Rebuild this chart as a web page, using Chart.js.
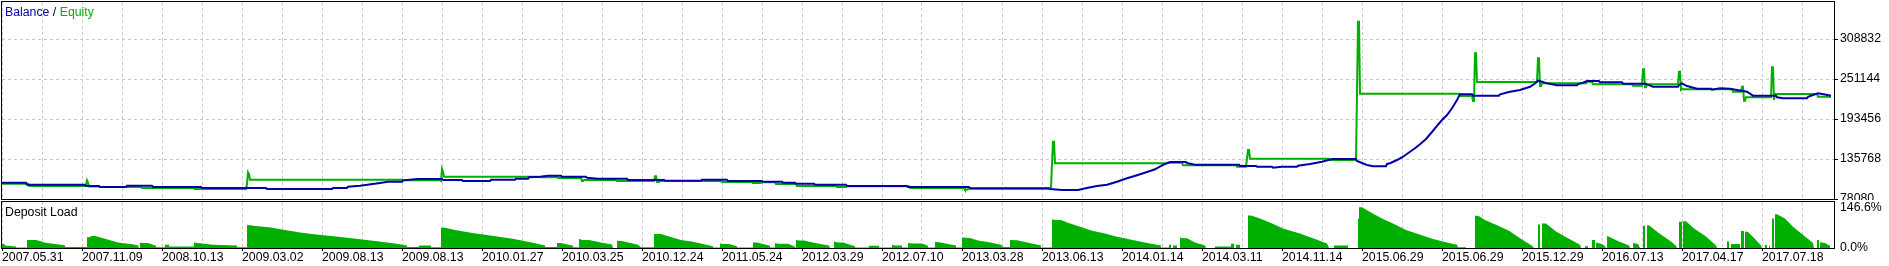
<!DOCTYPE html>
<html>
<head>
<meta charset="utf-8">
<script src="https://cdn.jsdelivr.net/npm/chart.js@4.4.0/dist/chart.umd.min.js"></script>
<style>
    html, body { margin: 0; padding: 0; background: #fff; overflow: hidden; }
    #wrap { position: relative; width: 1889px; height: 266px; font-family: "Liberation Sans", Arial, sans-serif; font-size: 12.3px; }
    canvas { position: absolute; left: 0; }
    #main { top: 0; }
    #load { top: 200px; }
    .cap { position: absolute; left: 5px; line-height: 14px; white-space: nowrap; z-index: 2; }
</style>
</head>
<body>
<div id="wrap">
    <canvas id="main" width="1889" height="200"></canvas>
    <canvas id="load" width="1889" height="66"></canvas>
    <div class="cap" style="top:5px"><span style="color:#0000a8">Balance</span> / <span style="color:#00b000">Equity</span></div>
    <div class="cap" style="top:205px;color:#000">Deposit Load</div>
</div>
<script>
// даты под каждой второй вертикальной линией сетки
const dateLabels = ['2007.05.31', '2007.11.09', '2008.10.13', '2009.03.02', '2009.08.13', '2009.08.13',
    '2010.01.27', '2010.03.25', '2010.12.24', '2011.05.24', '2012.03.29', '2012.07.10', '2013.03.28',
    '2013.06.13', '2014.01.14', '2014.03.11', '2014.11.14', '2015.06.29', '2015.06.29', '2015.12.29',
    '2016.07.13', '2017.04.17', '2017.07.18'];
const balanceTicks = [78080, 135768, 193456, 251144, 308832];
const loadTicks = [0, 146.6];

// [номер сделки, значение] - значение держится до следующей сделки
const balance = [
    [2, 101600], [27, 98700], [86, 96800], [100, 95400], [127, 97300], [153, 95400], [202, 93900],
    [267, 92500], [333, 93900], [348, 95800], [360, 97300], [371, 99300], [380, 101200], [388, 103000],
    [403, 105000], [412, 106200], [418, 106900], [443, 105500], [463, 104000], [491, 105900],
    [516, 107400], [529, 109400], [540, 110200], [548, 111700], [562, 110200], [587, 108800],
    [598, 107400], [628, 105500], [665, 104500], [702, 105900], [728, 104000], [763, 103000],
    [783, 101600], [796, 100100], [815, 98700], [847, 96800], [908, 95400], [970, 93500],
    [1050, 92500], [1062, 91100], [1078, 91100], [1088, 94400], [1097, 96800], [1107, 98700],
    [1117, 103000], [1127, 107900], [1137, 112300], [1147, 117000], [1155, 120900], [1162, 126700],
    [1170, 131400], [1187, 130000], [1195, 127500], [1240, 125700], [1257, 124700], [1273, 123200],
    [1282, 124700], [1298, 126100], [1310, 128600], [1322, 131900], [1332, 135800], [1357, 132900],
    [1362, 130000], [1367, 127100], [1373, 125200], [1387, 128600], [1390, 129600], [1397, 134300],
    [1403, 139100], [1410, 146300], [1415, 151200], [1420, 157000], [1426, 164600], [1432, 174700],
    [1437, 183400], [1442, 192000], [1447, 199200], [1452, 208900], [1457, 220900], [1460, 229100],
    [1473, 227100], [1500, 229100], [1510, 232800], [1520, 235300], [1530, 240000], [1535, 244700],
    [1538, 248700], [1543, 246800], [1547, 244900], [1557, 242100], [1578, 243900], [1583, 245800],
    [1587, 248300], [1600, 246400], [1623, 244400], [1647, 243500], [1653, 240000], [1679, 242500],
    [1682, 244900], [1687, 241000], [1697, 237200], [1712, 235700], [1720, 237700], [1730, 237200],
    [1737, 235300], [1747, 232800], [1753, 227100], [1777, 224800], [1783, 223300], [1808, 225600],
    [1813, 228100], [1818, 230500], [1825, 228800], [1831, 227100]
];

const equity = [
    [2, 99900], [29, 96800], [87, 105000], [88, 101900], [89, 96100], [100, 95400], [142, 93900],
    [195, 92500], [247, 99700], [248, 116600], [249, 114100], [250, 105900], [403, 105000],
    [441, 104000], [442, 121300], [443, 117400], [444, 110200], [540, 109400], [558, 108400],
    [582, 104000], [584, 105500], [617, 104000], [655, 110800], [657, 102600], [660, 104000],
    [722, 102600], [753, 101200], [762, 102200], [776, 99700], [797, 96800], [837, 95400],
    [847, 96400], [910, 93900], [965, 91500], [968, 92900], [1052, 129600], [1053, 160700],
    [1055, 129600], [1167, 130400], [1183, 126700], [1237, 124700], [1247, 136200], [1248, 148700],
    [1250, 136200], [1330, 134300], [1357, 229900], [1358, 333800], [1360, 229900], [1460, 226600],
    [1473, 219400], [1475, 288200], [1477, 246800], [1538, 281000], [1540, 241000], [1542, 244900],
    [1587, 247300], [1593, 243500], [1633, 241500], [1643, 265100], [1645, 239200], [1647, 243500],
    [1679, 261700], [1681, 235300], [1682, 236300], [1733, 232800], [1742, 240000], [1744, 219800],
    [1746, 224800], [1772, 268000], [1774, 220900], [1775, 229500], [1818, 225600], [1831, 225600]
];

// загрузка депозита, % (контур столбиков)
const depositLoad = [
    [2, 0], [2, 15], [4, 15], [5, 9], [16, 5], [16, 2], [27, 2],
    [27, 29], [36, 29], [40, 25], [44, 20], [51, 16], [59, 13], [65, 9], [65, 4], [87, 4],
    [87, 39], [90, 39], [91, 43], [95, 43], [105, 33], [118, 20], [134, 13], [138, 9], [139, 0],
    [140, 0], [140, 20], [143, 18], [148, 18], [156, 8], [156, 3], [165, 3],
    [165, 12], [169, 12], [169, 5], [194, 5], [194, 20], [198, 18], [213, 12], [237, 9], [237, 3], [247, 3],
    [247, 82], [251, 82], [253, 80], [269, 74], [285, 65], [300, 56], [316, 48], [336, 41], [356, 33],
    [375, 25], [395, 16], [407, 9], [407, 4], [419, 4], [419, 9], [431, 9], [431, 3], [441, 3],
    [441, 73], [445, 73], [455, 65], [474, 53], [494, 43], [514, 32], [534, 18], [545, 9], [545, 4], [557, 4],
    [557, 18], [561, 18], [573, 8], [573, 3], [579, 3],
    [579, 32], [583, 29], [589, 29], [601, 20], [612, 13], [613, 0], [617, 0], [617, 26], [622, 25],
    [638, 12], [641, 3], [654, 3],
    [654, 50], [661, 50], [669, 41], [681, 29], [693, 22], [705, 13], [713, 6], [713, 2], [720, 2],
    [720, 16], [723, 14], [729, 14], [737, 6], [737, 2], [753, 2],
    [753, 20], [757, 20], [770, 8], [770, 2], [775, 2],
    [775, 18], [778, 15], [788, 15], [794, 6], [796, 0],
    [796, 29], [799, 27], [804, 27], [815, 18], [829, 9], [830, 0],
    [834, 0], [834, 23], [838, 20], [843, 20], [855, 6], [855, 2], [869, 2], [869, 8], [879, 8], [879, 2], [892, 2],
    [892, 12], [895, 9], [902, 9], [902, 2], [908, 2],
    [908, 18], [912, 16], [922, 16], [928, 8], [928, 2], [935, 2],
    [935, 22], [939, 21], [956, 9], [956, 2], [962, 2],
    [962, 38], [970, 36], [978, 27], [989, 21], [1001, 12], [1003, 4], [1010, 4],
    [1010, 29], [1017, 28], [1041, 9], [1041, 2], [1052, 2],
    [1052, 103], [1055, 100], [1061, 100], [1068, 91], [1080, 76], [1092, 62], [1104, 53], [1116, 41],
    [1128, 32], [1140, 23], [1151, 15], [1161, 9], [1161, 2], [1169, 2], [1169, 12], [1171, 12], [1171, 0],
    [1173, 0], [1173, 9], [1177, 9], [1177, 0],
    [1180, 0], [1180, 38], [1183, 35], [1187, 35], [1195, 20], [1205, 9], [1206, 0], [1215, 0], [1215, 5],
    [1231, 5], [1231, 15], [1234, 15], [1234, 0], [1236, 0], [1236, 12], [1240, 12], [1240, 0],
    [1248, 0], [1248, 117], [1251, 117], [1260, 106], [1271, 90], [1283, 70], [1299, 53], [1315, 32],
    [1327, 16], [1329, 0], [1334, 0], [1334, 9], [1348, 9], [1348, 0],
    [1358, 0], [1358, 105], [1359, 105], [1359, 146.6], [1362, 146.6], [1370, 129], [1382, 106], [1394, 86],
    [1406, 65], [1418, 50], [1433, 32], [1449, 18], [1457, 12], [1458, 3], [1466, 3], [1466, 0],
    [1475, 0], [1475, 117], [1479, 114], [1485, 100], [1497, 82], [1509, 62], [1520, 35], [1532, 8], [1534, 0],
    [1538, 0], [1538, 84], [1540, 84], [1540, 0], [1542, 0], [1542, 88], [1546, 88], [1556, 59], [1568, 35],
    [1580, 12], [1581, 0], [1585, 0], [1585, 6], [1588, 6], [1588, 0],
    [1592, 0], [1592, 29], [1595, 29], [1595, 0], [1596, 0], [1596, 20], [1600, 16], [1604, 10], [1606, 0],
    [1607, 0], [1607, 43], [1609, 40], [1619, 23], [1629, 9], [1630, 0],
    [1633, 0], [1633, 18], [1638, 14], [1640, 0],
    [1643, 0], [1643, 80], [1645, 80], [1645, 0], [1647, 0], [1647, 82], [1649, 82], [1659, 53], [1671, 23],
    [1676, 8], [1677, 0],
    [1679, 0], [1679, 94], [1682, 94], [1682, 0], [1683, 0], [1683, 96], [1686, 96], [1694, 70], [1706, 41],
    [1716, 9], [1717, 0],
    [1727, 0], [1727, 23], [1729, 23], [1729, 0], [1731, 0], [1731, 14], [1740, 14], [1740, 0],
    [1741, 0], [1741, 61], [1744, 61], [1744, 0], [1745, 0], [1745, 59], [1748, 57], [1756, 29], [1761, 9], [1762, 0],
    [1765, 0], [1765, 11], [1767, 11], [1767, 0], [1769, 0], [1769, 8], [1770, 8], [1770, 0],
    [1772, 0], [1772, 106], [1774, 106], [1774, 0], [1775, 0], [1775, 121], [1777, 121], [1785, 106],
    [1793, 76], [1801, 53], [1813, 18], [1814, 0],
    [1817, 0], [1817, 29], [1819, 29], [1819, 0], [1820, 0], [1820, 21], [1825, 18], [1830, 8], [1830, 0]
];

const DEAL_MIN = 2;
const DEAL_MAX = 1834;
const dealTicks = [];
for (let d = DEAL_MIN; d < DEAL_MAX; d += 40) dealTicks.push(d);

// значение держится до следующей сделки - добавляем угол перед скачком,
// если сделки дальше друг от друга, чем maxGap
function toPolyline(steps, maxGap) {
    const pts = [];
    steps.forEach(([x, y], i) => {
        pts.push({x, y});
        const next = steps[i + 1];
        if (next && next[0] - x > maxGap) pts.push({x: next[0] - 1, y});
    });
    return pts;
}

Chart.defaults.font.family = '"Liberation Sans", Arial, sans-serif';
Chart.defaults.font.size = 12.3;
Chart.defaults.color = '#000';

const framePlugin = {
    id: 'frame',
    afterDraw(chart) {
        const {ctx, chartArea: a} = chart;
        ctx.save();
        ctx.strokeStyle = '#000';
        ctx.lineWidth = 1;
        ctx.strokeRect(a.left - 0.5, a.top - 0.5, a.right - a.left + 1, a.bottom - a.top + 1);
        ctx.restore();
    }
};

const gridColor = '#c8c8c8';

new Chart(document.getElementById('main'), {
    type: 'line',
    data: {
        datasets: [{
            label: 'Balance',
            data: toPolyline(balance, 12),
            borderColor: '#0000a8',
            borderWidth: 2,
            pointRadius: 0,
            tension: 0
        }, {
            label: 'Equity',
            data: toPolyline(equity, 1),
            borderColor: '#00b000',
            borderWidth: 2,
            pointRadius: 0,
            tension: 0
        }]
    },
    options: {
        responsive: false,
        animation: false,
        events: [],
        layout: { padding: { left: 2, top: 2, right: 0, bottom: 1 } },
        plugins: { legend: { display: false }, tooltip: { enabled: false } },
        scales: {
            x: {
                type: 'linear',
                min: DEAL_MIN,
                max: DEAL_MAX,
                afterBuildTicks: s => { s.ticks = dealTicks.map(v => ({value: v})); },
                ticks: { display: false },
                grid: { color: gridColor, drawTicks: false },
                border: { display: false, dash: [3, 3] },
                afterFit: s => { s.height = 0; s.paddingLeft = 0; s.paddingRight = 0; }
            },
            y: {
                position: 'right',
                min: 78080,
                max: 362200,
                afterBuildTicks: s => { s.ticks = balanceTicks.map(v => ({value: v})); },
                ticks: { padding: 2, color: '#000', callback: v => String(v) },
                grid: { color: gridColor, tickColor: '#000', tickLength: 4, tickBorderDash: [] },
                border: { display: false, dash: [3, 3] },
                afterFit: s => { s.width = 55; s.paddingTop = 0; s.paddingBottom = 0; }
            }
        }
    },
    plugins: [framePlugin]
});

new Chart(document.getElementById('load'), {
    type: 'line',
    data: {
        datasets: [{
            label: 'Deposit Load',
            data: depositLoad.map(([x, y]) => ({x, y})),
            borderWidth: 0,
            borderColor: 'rgba(0,0,0,0)',
            backgroundColor: '#00b000',
            fill: 'origin',
            pointRadius: 0,
            tension: 0
        }]
    },
    options: {
        responsive: false,
        animation: false,
        events: [],
        layout: { padding: { left: 2, top: 2, right: 0, bottom: 0 } },
        plugins: { legend: { display: false }, tooltip: { enabled: false } },
        scales: {
            x: {
                type: 'linear',
                min: DEAL_MIN,
                max: DEAL_MAX,
                afterBuildTicks: s => { s.ticks = dealTicks.map(v => ({value: v})); },
                ticks: {
                    autoSkip: false,
                    maxRotation: 0,
                    align: 'start',
                    padding: 0,
                    color: '#000',
                    font: { lineHeight: 1 },
                    callback: (v, i) => (i % 2 === 0 ? dateLabels[i / 2] : '')
                },
                grid: {
                    color: gridColor,
                    tickLength: 3,
                    tickColor: c => (c.index % 2 === 0 ? '#000' : 'rgba(0,0,0,0)')
                },
                border: { display: false, dash: [3, 3] },
                afterFit: s => { s.height = 18; s.paddingLeft = 0; s.paddingRight = 0; }
            },
            y: {
                position: 'right',
                min: 0,
                max: 165,
                afterBuildTicks: s => { s.ticks = loadTicks.map(v => ({value: v})); },
                ticks: { padding: 6, color: '#000', callback: v => v.toFixed(1) + '%' },
                grid: { display: false, drawTicks: false },
                border: { display: false },
                afterFit: s => { s.width = 55; s.paddingTop = 0; s.paddingBottom = 0; }
            }
        }
    },
    plugins: [framePlugin]
});
</script>
</body>
</html>
